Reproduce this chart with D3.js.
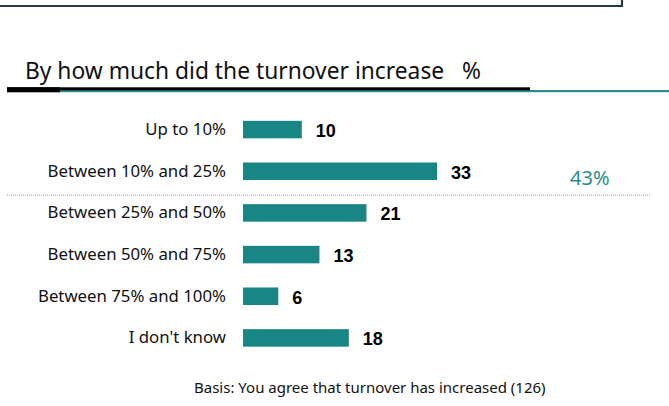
<!DOCTYPE html>
<html>
<head>
<meta charset="utf-8">
<script src="https://cdn.jsdelivr.net/npm/d3@7"></script>
<style>
  body { margin: 0; background: #fff; }
  svg { display: block; }
</style>
</head>
<body>
<div id="chart"></div>
<script>
// data
const categories = ["Up to 10%", "Between 10% and 25%", "Between 25% and 50%", "Between 50% and 75%", "Between 75% and 100%", "I don't know"];
const values = [10, 33, 21, 13, 6, 18];
const groupedCategories = ["Up to 10%", "Between 10% and 25%"]; // summed into the 43% note
const title = "By how much did the turnover increase";
const unitLabel = "%";
const basisNote = "Basis: You agree that turnover has increased (126)";

const W = 669, H = 406;
const teal = "#178685";
const labelFont = "'Noto Sans', 'Open Sans', sans-serif";

const svg = d3.select("#chart").append("svg")
  .attr("width", W)
  .attr("height", H);

// frame of the box above (only its bottom shows)
svg.append("path")
  .attr("d", "M-2,6 H622 V-2")
  .attr("fill", "none")
  .attr("stroke", "#263b47")
  .attr("stroke-width", 2.2);

// title
svg.append("text")
  .attr("x", 25).attr("y", 79)
  .attr("font-family", labelFont)
  .attr("font-size", 22.8)
  .attr("fill", "#111")
  .text(title);
svg.append("text")
  .attr("x", 462).attr("y", 79)
  .attr("font-family", labelFont)
  .attr("font-size", 22.8)
  .attr("fill", "#111")
  .text(unitLabel);

// underline: teal rule across, black rule above it, thicker black stub at left
svg.append("rect").attr("x", 60).attr("y", 90).attr("width", W - 60).attr("height", 2.2).attr("fill", "#2a8d8b");
svg.append("rect").attr("x", 7).attr("y", 87.3).attr("width", 523).attr("height", 3).attr("fill", "#000");
svg.append("rect").attr("x", 7).attr("y", 87.3).attr("width", 53).attr("height", 5).attr("fill", "#000");

const x = d3.scaleLinear().domain([0, 100]).range([243, 243 + 588]);
const y = d3.scaleBand().domain(categories).range([108.75, 358.75]).paddingInner(0.58).paddingOuter(0.29);

const rows = svg.append("g").selectAll("g")
  .data(categories.map((c, i) => ({ c, v: values[i] })))
  .join("g");

rows.append("rect")
  .attr("x", x(0))
  .attr("y", d => y(d.c))
  .attr("width", d => x(d.v) - x(0))
  .attr("height", y.bandwidth())
  .attr("fill", teal);

rows.append("text")
  .attr("x", 226)
  .attr("y", d => y(d.c) + y.bandwidth() / 2 + 5.5)
  .attr("text-anchor", "end")
  .attr("font-family", labelFont)
  .attr("font-size", 16.8)
  .attr("fill", "#111")
  .text(d => d.c);

rows.append("text")
  .attr("x", d => x(d.v) + 14)
  .attr("y", d => y(d.c) + y.bandwidth() / 2 + 7.5)
  .attr("font-family", "'Liberation Sans', Arial, sans-serif")
  .attr("font-weight", "bold")
  .attr("font-size", 18)
  .attr("fill", "#000")
  .text(d => d.v);

// dotted separator after the grouped categories
const last = groupedCategories[groupedCategories.length - 1];
const next = categories[categories.indexOf(last) + 1];
const sepY = (y(last) + y.bandwidth() + y(next)) / 2 + 3;
svg.append("line")
  .attr("x1", 7).attr("x2", 650)
  .attr("y1", sepY).attr("y2", sepY)
  .attr("stroke", "#5fb0ad")
  .attr("stroke-width", 1)
  .attr("stroke-dasharray", "1,1");

const groupSum = d3.sum(groupedCategories, c => values[categories.indexOf(c)]);
svg.append("text")
  .attr("x", 570)
  .attr("y", 185)
  .attr("font-family", labelFont)
  .attr("font-size", 20)
  .attr("fill", "#2a8f8b")
  .text(groupSum + "%");

// basis note
svg.append("text")
  .attr("x", 194).attr("y", 393)
  .attr("font-family", labelFont)
  .attr("font-size", 15)
  .attr("fill", "#111")
  .text(basisNote);
</script>
</body>
</html>
